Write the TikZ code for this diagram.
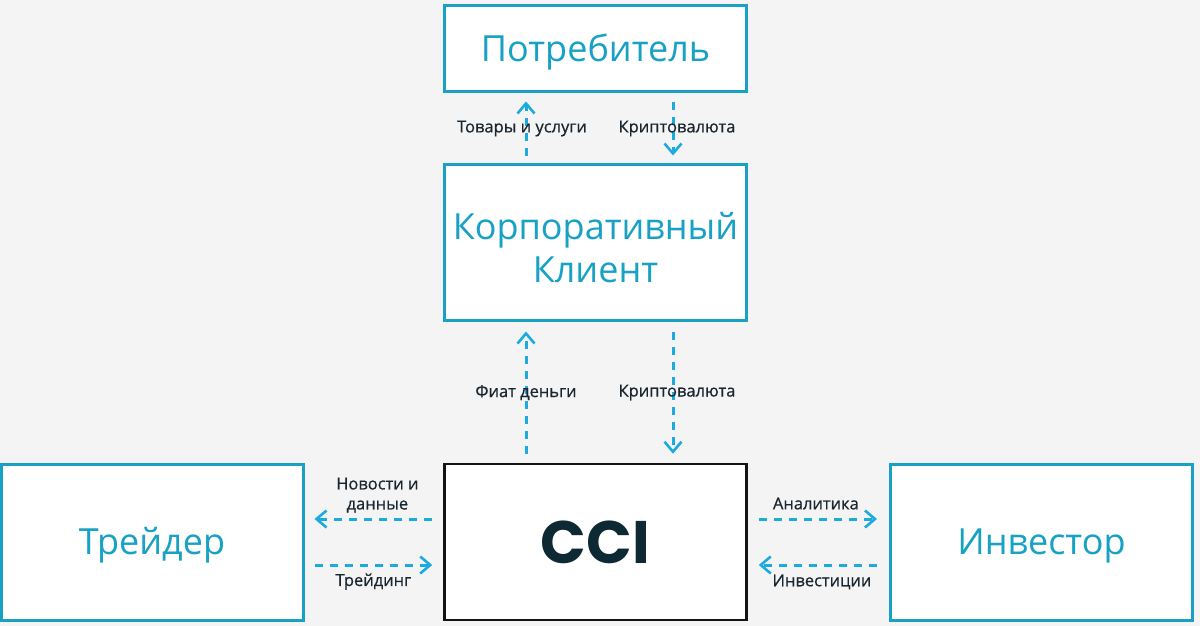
\documentclass[tikz,border=0pt]{standalone}
\usepackage{fontspec}
\setmainfont{Open Sans}
\newfontfamily\ccifont{Poppins}
\newfontfamily\tagfont{Open Sans}[FakeBold=0.6]
\usepackage{tikz}
\usetikzlibrary{arrows.meta}
\definecolor{bggray}{rgb}{0.957, 0.957, 0.957}
\definecolor{boxteal}{rgb}{0.09, 0.63, 0.77}
\definecolor{flowblue}{rgb}{0.11, 0.67, 0.87}
\definecolor{tagdark}{rgb}{0.10, 0.15, 0.19}
\definecolor{ccidark}{rgb}{0.05, 0.16, 0.20}

\begin{document}
\begin{tikzpicture}[x=1pt, y=1pt,
        party/.style={draw=boxteal, line width=3pt, fill=white, minimum width=302pt,
            minimum height=156pt, inner sep=0pt, align=center, text=boxteal,
            font=\fontsize{36}{43}\selectfont},
        oneline/.style={text height=25.7pt, text depth=0pt},
        flow/.style={draw=flowblue, line width=3pt, dash pattern=on 8pt off 7pt,
            -{Straight Barb[length=10pt, width=17pt, line width=2.6pt]}},
        tag/.style={text=tagdark, inner sep=0pt, align=center,
            font=\tagfont\fontsize{16.5}{20}\selectfont}
    ]
        \fill[bggray] (0,0) rectangle (1200,-626);
        \useasboundingbox (0,0) rectangle (1200,-626);
        % Add boxes
        \node[party, oneline, minimum height=86pt] (cons) at (595.5,-48.5) {Потребитель};
        \node[party] (corp) at (595.5,-242.5) {\rule{0pt}{38pt}Корпоративный\\Клиент};
        \node[party, oneline] (trader) at (152,-542) {Трейдер};
        \node[party, oneline] (inv) at (1041.5,-542) {Инвестор};
        \node[party, draw=black!92, line width=2.5pt, text=ccidark, text height=42pt, text depth=0pt,
            font=\ccifont\bfseries\fontsize{60}{60}\selectfont] (cci) at (595.5,-542) {CCI};
        % Draw flows between boxes
        \draw[flow] ([xshift=-69.5pt, yshift=7.5pt]corp.north)
            -- node[tag, xshift=-4pt] (goods) {Товары и услуги} ([xshift=-69.5pt, yshift=-8.5pt]cons.south);
        \draw[flow] ([xshift=77.5pt, yshift=-8.5pt]cons.south)
            -- node[tag, xshift=4pt] (crypto1) {Криптовалюта} ([xshift=77.5pt, yshift=7.5pt]corp.north);
        \draw[flow] ([xshift=-69.5pt, yshift=9pt]cci.north)
            -- node[tag] (fiat) {Фиат деньги} ([xshift=-69.5pt, yshift=-9.5pt]corp.south);
        \draw[flow] ([xshift=77.5pt, yshift=-9.5pt]corp.south)
            -- node[tag, xshift=4pt] (crypto2) {Криптовалюта} ([xshift=77.5pt, yshift=9pt]cci.north);
        \draw[flow] ([xshift=-11pt, yshift=23pt]cci.west)
            -- node[tag, above=5pt, xshift=4pt] (news) {Новости и\\данные} ([xshift=10pt, yshift=23pt]trader.east);
        \draw[flow] ([xshift=10pt, yshift=-23pt]trader.east)
            -- node[tag, below=7pt] (trade) {Трейдинг} ([xshift=-11pt, yshift=-23pt]cci.west);
        \draw[flow] ([xshift=11pt, yshift=23pt]cci.east)
            -- node[tag, above=8pt, xshift=-2pt] (anal) {Аналитика} ([xshift=-12pt, yshift=23pt]inv.west);
        \draw[flow] ([xshift=-12pt, yshift=-23pt]inv.west)
            -- node[tag, below=8pt, xshift=4pt] (invest) {Инвестиции} ([xshift=11pt, yshift=-23pt]cci.east);
    \end{tikzpicture}
\end{document}
